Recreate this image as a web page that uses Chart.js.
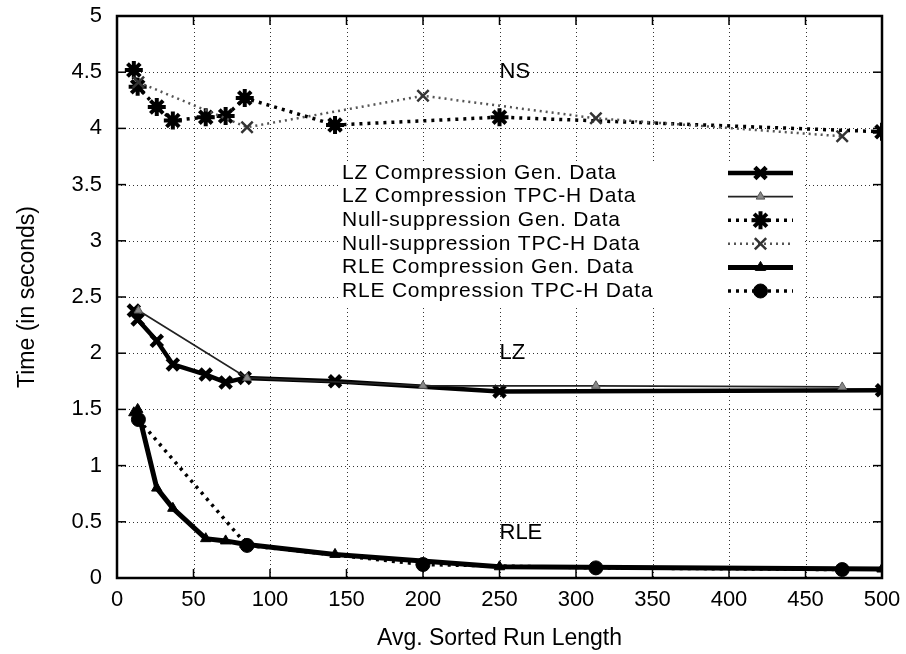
<!DOCTYPE html>
<html><head><meta charset="utf-8">
<script src="https://cdn.jsdelivr.net/npm/chart.js@4/dist/chart.umd.min.js"></script>
<style>html,body{margin:0;padding:0;background:#fff}#wrap{width:906px;height:654px;position:relative}</style>
</head><body><div id="wrap"><canvas id="c" width="906" height="654"></canvas></div>
<script>
// ---- data ----
const genRunLength  = [11, 13.5, 26, 36.5, 58, 71, 83.5, 142.5, 250, 500];
const tpchRunLength = [14, 85, 200, 313, 474];
const lzGen   = [2.38, 2.30, 2.11, 1.90, 1.81, 1.74, 1.78, 1.75, 1.66, 1.67];
const lzTpch  = [2.38, 1.78, 1.71, 1.71, 1.70];
const nsGen   = [4.52, 4.37, 4.19, 4.07, 4.10, 4.11, 4.27, 4.03, 4.10, 3.97];
const nsTpch  = [4.41, 4.01, 4.29, 4.09, 3.93];
const rleGen  = [1.47, 1.50, 0.80, 0.62, 0.35, 0.33, 0.30, 0.21, 0.10, 0.08];
const rleTpch = [1.41, 0.29, 0.12, 0.09, 0.075];
const seriesNames = [
  'LZ Compression Gen. Data',
  'LZ Compression TPC-H Data',
  'Null-suppression Gen. Data',
  'Null-suppression TPC-H Data',
  'RLE Compression Gen. Data',
  'RLE Compression TPC-H Data'
];
const xTickValues = [0, 50, 100, 150, 200, 250, 300, 350, 400, 450, 500];
const yTickValues = [0, 0.5, 1, 1.5, 2, 2.5, 3, 3.5, 4, 4.5, 5];
const curveLabels = [
  {text: 'NS',  x: 250, y: 4.5},
  {text: 'LZ',  x: 250, y: 2.0},
  {text: 'RLE', x: 250, y: 0.4}
];
const xTitle = 'Avg. Sorted Run Length';
const yTitle = 'Time (in seconds)';

const FONT = '"Liberation Sans", Arial, Helvetica, sans-serif';
const pts = (xs, ys) => xs.map((x, i) => ({x: x, y: ys[i]}));

const styles = [
  {borderColor:'#000', borderWidth:4.5, borderDash:[], pointStyle:'crossRot', pointRadius:8, pointBorderWidth:4.5, pointBorderColor:'#000', pointBackgroundColor:'#000'},
  {borderColor:'#222', borderWidth:1.8, borderDash:[], pointStyle:'triangle', pointRadius:5, pointBorderWidth:1, pointBorderColor:'#555', pointBackgroundColor:'#888'},
  {borderColor:'#000', borderWidth:3.5, borderDash:[3,5], pointStyle:'star', pointRadius:9, pointBorderWidth:4, pointBorderColor:'#000', pointBackgroundColor:'#000'},
  {borderColor:'#555', borderWidth:2.5, borderDash:[2,4], pointStyle:'crossRot', pointRadius:8, pointBorderWidth:2.5, pointBorderColor:'#333', pointBackgroundColor:'#333'},
  {borderColor:'#000', borderWidth:5, borderDash:[], pointStyle:'triangle', pointRadius:6, pointBorderWidth:1, pointBorderColor:'#000', pointBackgroundColor:'#000'},
  {borderColor:'#000', borderWidth:3.5, borderDash:[3,5], pointStyle:'circle', pointRadius:7, pointBorderWidth:1, pointBorderColor:'#000', pointBackgroundColor:'#000'}
];
const seriesData = [
  pts(genRunLength, lzGen), pts(tpchRunLength, lzTpch),
  pts(genRunLength, nsGen), pts(tpchRunLength, nsTpch),
  pts(genRunLength, rleGen), pts(tpchRunLength, rleTpch)
];
const datasets = seriesNames.map((name, i) => Object.assign({
  label: name, data: seriesData[i], showLine: true, tension: 0, fill: false,
  order: 6 - i, pointHoverRadius: styles[i].pointRadius
}, styles[i]));

function drawMarker(ctx, s, x, y) {
  ctx.save();
  ctx.fillStyle = s.pointBackgroundColor;
  ctx.strokeStyle = s.pointBorderColor;
  ctx.lineWidth = s.pointBorderWidth;
  ctx.setLineDash([]);
  if (Chart.helpers && Chart.helpers.drawPoint) {
    Chart.helpers.drawPoint(ctx, {pointStyle: s.pointStyle, radius: s.pointRadius, borderWidth: s.pointBorderWidth, rotation: 0}, x, y);
  }
  ctx.restore();
}

const framePlugin = {
  id: 'frame',
  beforeDatasetsDraw(chart) {
    const {ctx, chartArea: a, scales: {x, y}} = chart;
    ctx.save();
    ctx.strokeStyle = '#333';
    ctx.lineWidth = 1;
    ctx.setLineDash([1, 3]);
    xTickValues.slice(1, -1).forEach(v => {
      const px = Math.round(x.getPixelForValue(v)) + 0.5;
      ctx.beginPath(); ctx.moveTo(px, a.top); ctx.lineTo(px, a.bottom); ctx.stroke();
    });
    yTickValues.slice(1, -1).forEach(v => {
      const py = Math.round(y.getPixelForValue(v)) + 0.5;
      ctx.beginPath(); ctx.moveTo(a.left, py); ctx.lineTo(a.right, py); ctx.stroke();
    });
    ctx.setLineDash([]);
    ctx.strokeStyle = '#000';
    ctx.lineWidth = 1.5;
    const t = 9;
    xTickValues.forEach(v => {
      const px = x.getPixelForValue(v);
      ctx.beginPath(); ctx.moveTo(px, a.bottom); ctx.lineTo(px, a.bottom - t); ctx.stroke();
      ctx.beginPath(); ctx.moveTo(px, a.top); ctx.lineTo(px, a.top + t); ctx.stroke();
    });
    yTickValues.forEach(v => {
      const py = y.getPixelForValue(v);
      ctx.beginPath(); ctx.moveTo(a.left, py); ctx.lineTo(a.left + t, py); ctx.stroke();
      ctx.beginPath(); ctx.moveTo(a.right, py); ctx.lineTo(a.right - t, py); ctx.stroke();
    });
    // legend box (white) covering grid
    const lx = a.left + 223, ly = a.top + 145, lw = 465, lh = 145;
    ctx.fillStyle = '#fff';
    ctx.fillRect(lx, ly, lw, lh);
    ctx.restore();
  },
  afterDatasetsDraw(chart) {
    const {ctx, chartArea: a, scales: {x, y}} = chart;
    ctx.save();
    // frame
    ctx.strokeStyle = '#000';
    ctx.lineWidth = 2.5;
    ctx.strokeRect(a.left, a.top, a.right - a.left, a.bottom - a.top);
    // curve labels
    ctx.fillStyle = '#000';
    ctx.font = '22px ' + FONT;
    ctx.textAlign = 'left';
    ctx.textBaseline = 'middle';
    curveLabels.forEach(l => ctx.fillText(l.text, x.getPixelForValue(l.x), y.getPixelForValue(l.y)));
    // legend
    const tx = a.left + 225, ty0 = a.top + 157, dy = 23.6;
    const sx0 = a.left + 611, sx1 = a.left + 676;
    ctx.font = '21px ' + FONT;
    try { ctx.letterSpacing = '0.8px'; } catch (e) {}
    seriesNames.forEach((name, i) => {
      const yy = ty0 + i * dy;
      ctx.fillStyle = '#000';
      ctx.fillText(name, tx, yy);
      const s = styles[i];
      ctx.save();
      ctx.strokeStyle = s.borderColor;
      ctx.lineWidth = s.borderWidth;
      ctx.setLineDash(s.borderDash);
      ctx.beginPath(); ctx.moveTo(sx0, yy); ctx.lineTo(sx1, yy); ctx.stroke();
      ctx.restore();
      drawMarker(ctx, s, (sx0 + sx1) / 2, yy);
    });
    ctx.restore();
  }
};

new Chart(document.getElementById('c'), {
  type: 'scatter',
  data: {datasets: datasets},
  options: {
    responsive: false,
    animation: false,
    layout: {padding: {left: 0, right: 24, top: 16, bottom: 0}},
    plugins: {legend: {display: false}, tooltip: {enabled: false}},
    scales: {
      x: {
        type: 'linear', min: 0, max: 500,
        afterBuildTicks: s => { s.ticks = xTickValues.map(v => ({value: v})); },
        afterFit: s => { s.height = 76; s.paddingLeft = 0; s.paddingRight = 0; },
        grid: {display: false, drawTicks: false},
        border: {display: false},
        ticks: {color: '#000', font: {family: FONT, size: 22}, padding: 9, maxRotation: 0, autoSkip: false,
                callback: v => String(v)},
        title: {display: true, text: xTitle, color: '#000', font: {family: FONT, size: 23}, padding: {top: 0, bottom: 2}}
      },
      y: {
        type: 'linear', min: 0, max: 5,
        afterBuildTicks: s => { s.ticks = yTickValues.map(v => ({value: v})); },
        afterFit: s => { s.width = 117; s.paddingTop = 0; s.paddingBottom = 0; },
        grid: {display: false, drawTicks: false},
        border: {display: false},
        ticks: {color: '#000', font: {family: FONT, size: 22}, padding: 15, autoSkip: false,
                callback: v => String(v)},
        title: {display: true, text: yTitle, color: '#000', font: {family: FONT, size: 23}, padding: {top: 14, bottom: 0}}
      }
    }
  },
  plugins: [framePlugin]
});
</script></body></html>
